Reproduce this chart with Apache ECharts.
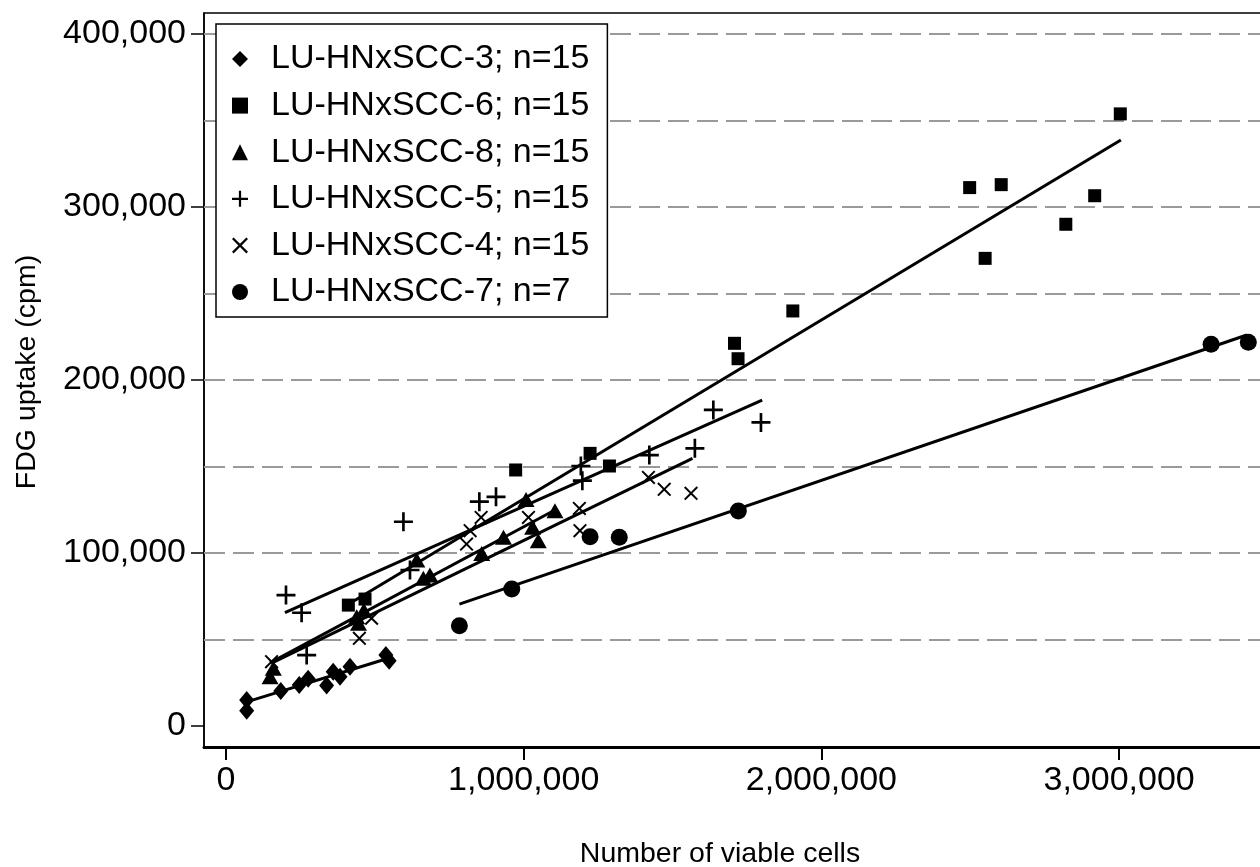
<!DOCTYPE html>
<html>
<head>
<meta charset="utf-8">
<script src="https://cdn.jsdelivr.net/npm/echarts@6/dist/echarts.min.js"></script>
<style>
  html, body { margin: 0; padding: 0; background: #fff; }
  #chart { width: 1260px; height: 867px; }
</style>
</head>
<body>
<div id="chart"></div>
<script>
// values (cells, cpm)
const names = ['LU-HNxSCC-3; n=15', 'LU-HNxSCC-6; n=15', 'LU-HNxSCC-8; n=15',
  'LU-HNxSCC-5; n=15', 'LU-HNxSCC-4; n=15', 'LU-HNxSCC-7; n=7'];

const scc3X = [69500, 69500, 184000, 246000, 276000, 338000, 360000, 383000, 416500, 537000, 548000];
const scc3Y = [15000, 8900, 20300, 23700, 27300, 23400, 31400, 28500, 34300, 41000, 37700];

const scc6X = [411000, 467000, 973000, 1223000, 1288000, 1708000, 1720000, 1904000, 2498000, 2550000, 2604000, 2821000, 2918000, 3004000];
const scc6Y = [69900, 73400, 148000, 157600, 150300, 221200, 212300, 239900, 311200, 270300, 312900, 290000, 306500, 353800];

const scc8X = [148000, 159000, 439000, 445000, 463000, 641000, 663000, 685000, 859000, 932000, 1008000, 1030000, 1049000, 1105000];
const scc8Y = [28500, 33400, 63200, 59400, 67000, 96000, 85400, 87300, 99800, 109100, 131000, 114900, 107100, 124500];

const scc5X = [201500, 254000, 271000, 596000, 618000, 851000, 907000, 1192000, 1197000, 1422000, 1575000, 1637000, 1797000];
const scc5Y = [75700, 65500, 41000, 118100, 90200, 129700, 132500, 150300, 141800, 156600, 160500, 182700, 175500];

const scc4X = [153000, 448000, 489000, 808000, 820000, 857000, 1016000, 1187000, 1189000, 1419000, 1472000, 1562000];
const scc4Y = [37200, 50700, 62300, 105200, 112900, 120600, 120600, 125800, 112900, 143700, 136800, 134500];

const scc7X = [784000, 960000, 1223000, 1321000, 1721000, 3309000, 3434000];
const scc7Y = [58000, 79200, 109400, 109100, 124300, 220600, 221800];

// fitted line end points [x0, y0, x1, y1]
const fit3 = [69500, 14000, 551000, 39500];
const fit6 = [410000, 70300, 3006000, 338700];
const fit8 = [148000, 36500, 1105000, 124900];
const fit5 = [198000, 65500, 1801000, 188400];
const fit4 = [160000, 37000, 1567000, 154700];
const fit7 = [784000, 70500, 3429000, 226000];

const xTicks = [0, 1000000, 2000000, 3000000];
const yTicks = [0, 100000, 200000, 300000, 400000];
const yGrid = [50000, 100000, 150000, 200000, 250000, 300000, 350000, 400000];

const FONT = "'Liberation Sans', Arial, sans-serif";
const plusPath = 'path://M8.6,0H11.4V8.6H20V11.4H11.4V20H8.6V11.4H0V8.6H8.6Z';
const crossPath = 'path://M0,2L2,0L10,8L18,0L20,2L12,10L20,18L18,20L10,12L2,20L0,18L8,10Z';

const chart = echarts.init(document.getElementById('chart'));

const pts = (xs, ys) => xs.map((x, i) => [x, ys[i]]);
const fitLine = f => ({
  type: 'line',
  data: [[f[0], f[1]], [f[2], f[3]]],
  showSymbol: false,
  symbol: 'none',
  lineStyle: { color: '#000', width: 3 },
  silent: true,
  z: 3
});
const scatter = (name, xs, ys, symbol, size, extra) => Object.assign({
  type: 'scatter',
  name: name,
  data: pts(xs, ys),
  symbol: symbol,
  symbolSize: size,
  itemStyle: { color: '#000', opacity: 1 },
  z: 4
}, extra || {});

// legend icons, a bit smaller than the marks in the plot
const legendIcons = ['diamond', 'rect', 'triangle', plusPath, crossPath, 'circle'];

const option = {
  backgroundColor: '#fff',
  animation: false,
  textStyle: { fontFamily: FONT },
  grid: { left: 204, right: -2, top: 13, bottom: 120, show: true, borderColor: '#000', borderWidth: 1.5, outerBoundsMode: 'none' },
  legend: {
    data: names.map((n, i) => ({ name: n, icon: legendIcons[i] })),
    orient: 'vertical',
    left: 216,
    top: 24,
    padding: [18, 18, 8, 16],
    itemWidth: 16,
    itemHeight: 16,
    itemGap: 12.6,
    symbolKeepAspect: true,
    backgroundColor: '#fff',
    borderColor: '#000',
    borderWidth: 1.5,
    textStyle: { fontSize: 34, lineHeight: 34, color: '#000', fontFamily: FONT, padding: [0, 0, 0, 18] },
    inactiveColor: '#000'
  },
  xAxis: {
    type: 'value',
    min: -73900,
    max: 3480000,
    name: 'Number of viable cells',
    nameLocation: 'middle',
    nameGap: 93,
    nameTextStyle: { fontSize: 28.5, color: '#000', fontFamily: FONT, padding: [0, 26, 0, 0] },
    axisLine: { show: true, onZero: false, lineStyle: { color: '#000', width: 3 } },
    axisTick: { show: true, length: 13, customValues: xTicks, lineStyle: { color: '#000', width: 2 } },
    axisLabel: { customValues: xTicks, fontSize: 34, color: '#000', margin: 17, fontFamily: FONT,
      formatter: v => v.toLocaleString('en-US') },
    splitLine: { show: false }
  },
  yAxis: {
    type: 'value',
    min: -12100,
    max: 412100,
    name: 'FDG uptake (cpm)',
    nameLocation: 'middle',
    nameGap: 162,
    nameTextStyle: { fontSize: 28.5, color: '#000', fontFamily: FONT, padding: [0, 0, 0, 16] },
    axisLine: { show: true, onZero: false, lineStyle: { color: '#000', width: 1.5 } },
    axisTick: { show: true, length: 13, customValues: yTicks, lineStyle: { color: '#000', width: 1.5 } },
    axisLabel: { customValues: yTicks, fontSize: 34, color: '#000', margin: 18, fontFamily: FONT,
      formatter: v => v.toLocaleString('en-US') },
    splitLine: { show: false }
  },
  series: [
    scatter(names[0], scc3X, scc3Y, 'diamond', [15, 18], {
      markLine: {
        silent: true,
        symbol: 'none',
        label: { show: false },
        lineStyle: { color: '#9a9a9a', width: 2, type: [21, 8] },
        data: yGrid.map(v => ({ yAxis: v })),
        z: 1
      }
    }),
    scatter(names[1], scc6X, scc6Y, 'rect', 13),
    scatter(names[2], scc8X, scc8Y, 'triangle', [17, 15]),
    scatter(names[3], scc5X, scc5Y, plusPath, 19),
    scatter(names[4], scc4X, scc4Y, crossPath, 14),
    scatter(names[5], scc7X, scc7Y, 'circle', 17),
    fitLine(fit3), fitLine(fit6), fitLine(fit8), fitLine(fit5), fitLine(fit4), fitLine(fit7)
  ]
};

chart.setOption(option);
</script>
</body>
</html>
